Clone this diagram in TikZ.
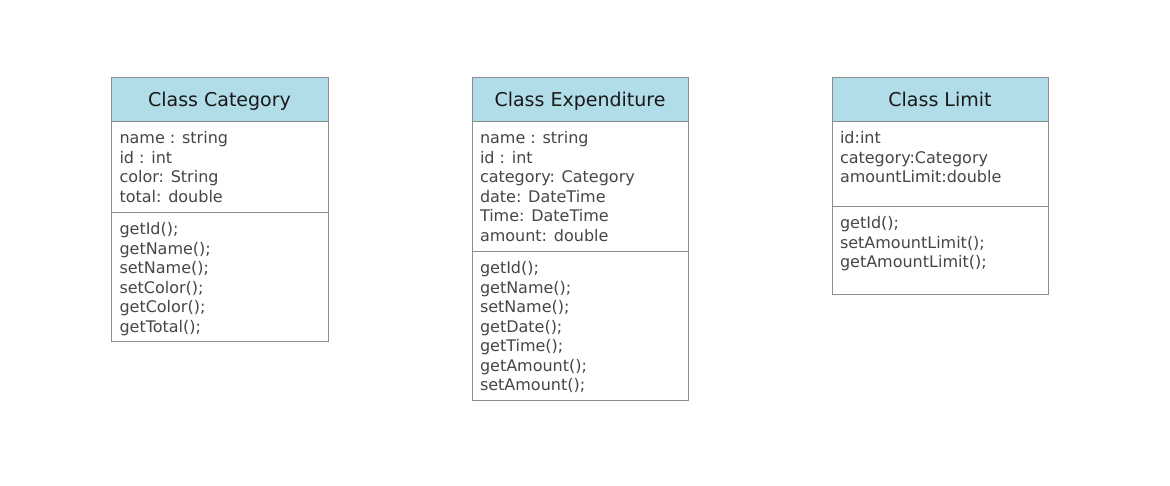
\documentclass[tikz,border=0pt]{standalone}
\usepackage{fontspec}
\setmainfont{DejaVu Sans}
\usepackage{tikz}
\usetikzlibrary{positioning}

\definecolor{hdrblue}{RGB}{177,221,232}
\definecolor{boxline}{RGB}{140,140,140}
\definecolor{membertext}{RGB}{70,70,70}

\newcommand{\members}[2]{\parbox[t][#1][t]{200pt}{\strut #2}}

\tikzset{
  classhead/.style={draw=boxline, fill=hdrblue, line width=1pt, minimum width=216pt,
    minimum height=44pt, inner sep=0pt, outer sep=0pt, anchor=north west,
    text height=16pt, text depth=2pt,
    font=\fontsize{19}{22}\selectfont, text=black!90},
  classpart/.style={draw=boxline, fill=white, line width=1pt, minimum width=216pt,
    inner xsep=8pt, inner ysep=9pt, outer sep=0pt,
    font=\fontsize{16}{19.5}\selectfont, text=membertext}
}

\begin{document}
\begin{tikzpicture}[x=1pt, y=-1pt]
  \useasboundingbox (0,0) rectangle (1170,485);

  \node[classhead, minimum width=217pt] (catHead) at (111,77) {Class Category};
  \node[classpart, minimum width=217pt, minimum height=91pt, below=0pt of catHead] (catAttr)
    {\members{73pt}{name : string\\id : int\\color: String\\total: double}};
  \node[classpart, minimum width=217pt, minimum height=129pt, below=0pt of catAttr] (catMeth)
    {\members{111pt}{getId();\\getName();\\setName();\\setColor();\\getColor();\\getTotal();}};

  \node[classhead] (expHead) at (472,77) {Class Expenditure};
  \node[classpart, minimum height=130pt, below=0pt of expHead] (expAttr)
    {\members{112pt}{name : string\\id : int\\category: Category\\date: DateTime\\Time: DateTime\\amount: double}};
  \node[classpart, minimum height=149pt, below=0pt of expAttr] (expMeth)
    {\members{131pt}{getId();\\getName();\\setName();\\getDate();\\getTime();\\getAmount();\\setAmount();}};

  \node[classhead] (limHead) at (832,77) {Class Limit};
  \node[classpart, minimum height=85pt, below=0pt of limHead] (limAttr)
    {\members{67pt}{id:int\\category:Category\\amountLimit:double}};
  \node[classpart, minimum height=88pt, below=0pt of limAttr] (limMeth)
    {\members{70pt}{getId();\\setAmountLimit();\\getAmountLimit();}};
\end{tikzpicture}
\end{document}
